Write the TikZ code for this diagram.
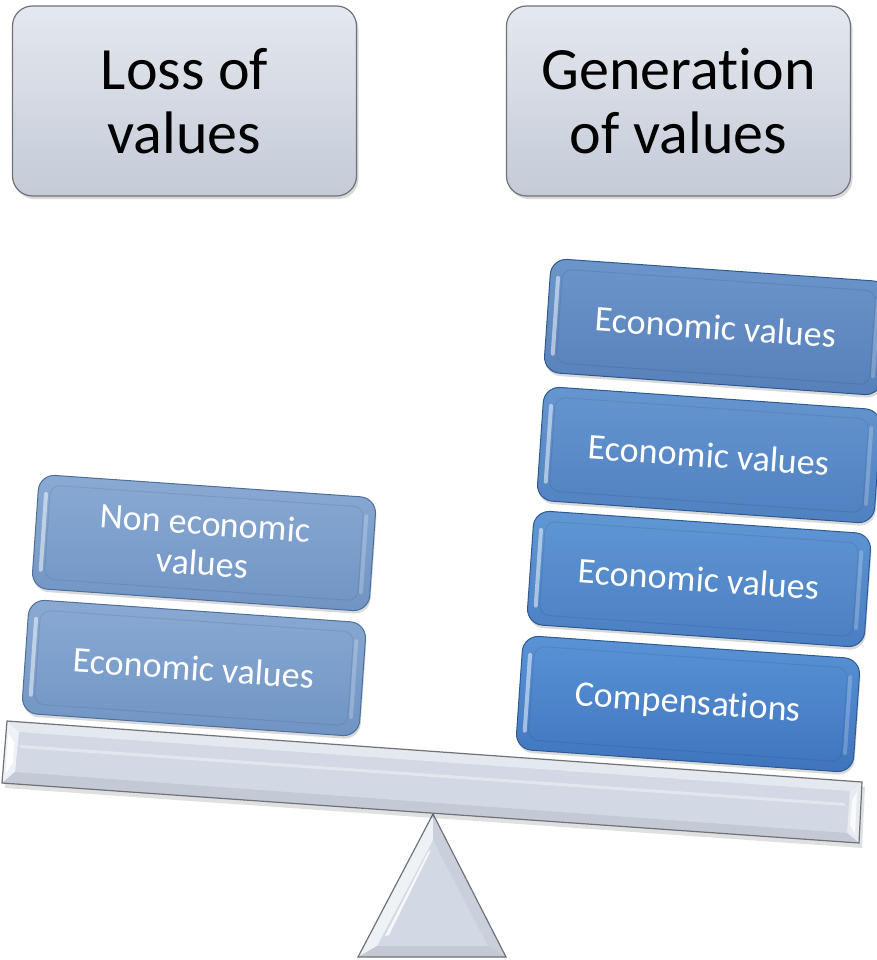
\documentclass[tikz,border=0pt]{standalone}
\usepackage{fontspec}
\setmainfont{Carlito}[Ligatures={NoCommon,NoContextual}]
\usetikzlibrary{shadows,calc}
\definecolor{grayT}{HTML}{E4E8EF}
\definecolor{grayB}{HTML}{C4CBD7}
\definecolor{grayD}{HTML}{6E7279}
\definecolor{beamF}{HTML}{D3D9E4}
\definecolor{beamL}{HTML}{EEF1F6}
\definecolor{beamM}{HTML}{C3CAD6}
\definecolor{lbT}{HTML}{8AAAD3}
\definecolor{lbB}{HTML}{6F94C4}
\definecolor{lbD}{HTML}{4D6F99}
\definecolor{r4T}{HTML}{6C95CA}
\definecolor{r4B}{HTML}{5780BA}
\definecolor{r3T}{HTML}{6696D0}
\definecolor{r3B}{HTML}{4F80C0}
\definecolor{r2T}{HTML}{6097D4}
\definecolor{r2B}{HTML}{4A7EC2}
\definecolor{r1T}{HTML}{5A93D6}
\definecolor{r1B}{HTML}{3F74BD}
\definecolor{rbD}{HTML}{2E5A90}
\newcommand\glossit[1]{%
\begin{scope}[shift={(#1.center)},rotate=-4]
 \fill[white,opacity=0.5,rounded corners=2pt] (-163pt,-40pt) rectangle (-159pt,40pt);
 \fill[white,opacity=0.22,rounded corners=2pt] (158pt,-40pt) rectangle (162pt,40pt);
 \draw[black,opacity=0.08,line width=1pt,rounded corners=10pt] (-157pt,-47pt) rectangle (157pt,47pt);
\end{scope}}
\begin{document}
\begin{tikzpicture}[x=1pt,y=-1pt,
  greybox/.style={draw=grayD, line width=1.2pt, rounded corners=20pt,
    minimum width=344pt, minimum height=190pt, top color=grayT, bottom color=grayB,
    align=center, text=black, font=\fontsize{60}{64}\selectfont,
    drop shadow={opacity=0.3,shadow xshift=2pt,shadow yshift=-3pt}},
  bluebox/.style={draw=rbD, line width=1pt, rounded corners=16pt,
    minimum width=338pt, minimum height=114pt, rotate=-4, align=center,
    text=white, font=\fontsize{36}{40}\selectfont,
    drop shadow={opacity=0.3,shadow xshift=1pt,shadow yshift=-3pt}},
  lbox/.style={bluebox, draw=lbD, top color=lbT, bottom color=lbB},
  beamline/.style={draw=grayD, line width=1.2pt, line join=miter}
]
\clip (0,0) rectangle (877,960);

% top headings
\node[greybox] (loss) at (184.5,101) {Loss of\\values};
\node[greybox] (gen) at (678.5,101) {Generat\kern0pt ion\\of values};

% fulcrum
\coordinate (tA) at (433,814);
\coordinate (tL) at (358,957);
\coordinate (tR) at (506,957);
\coordinate (iA) at (433,840);
\coordinate (iL) at (377,946);
\coordinate (iR) at (488,946);
\fill[beamF] (tA) -- (tR) -- (tL) -- cycle;
\fill[beamL] (tA) -- (iA) -- (iL) -- (tL) -- cycle;
\fill[beamM!60!beamF] (tA) -- (tR) -- (iR) -- (iA) -- cycle;
\fill[beamM] (tL) -- (iL) -- (iR) -- (tR) -- cycle;
\fill[white,opacity=0.8] (428,852) -- (431,850) -- (389,935) -- (385,936) -- cycle;
\draw[beamline] (tA) -- (tR) -- (tL) -- cycle;

% beam
\coordinate (bTL) at (7,721);
\coordinate (bTR) at (862,782);
\coordinate (bBR) at (859,843);
\coordinate (bBL) at (2,783);
\coordinate (cTL) at (19,732);
\coordinate (cTR) at (850,791);
\coordinate (cBR) at (847,833);
\coordinate (cBL) at (15,772);
\fill[black,opacity=0.12] ($(bTL)+(3,5)$) -- ($(bTR)+(3,5)$) -- ($(bBR)+(3,5)$) -- ($(bBL)+(3,5)$) -- cycle;
\fill[beamF] (bTL) -- (bTR) -- (bBR) -- (bBL) -- cycle;
\fill[grayT] (bTL) -- (bTR) -- (cTR) -- (cTL) -- cycle;
\fill[beamL] (bTL) -- (cTL) -- (cBL) -- (bBL) -- cycle;
\fill[white] (8,733) -- (14,742) -- (13,762) -- (6,773) -- cycle;
\fill[beamL!70!beamF] (bTR) -- (bBR) -- (cBR) -- (cTR) -- cycle;
\fill[white,opacity=0.8] (857,792) -- (852,800) -- (850,825) -- (855,835) -- cycle;
\fill[beamM] (bBL) -- (cBL) -- (cBR) -- (bBR) -- cycle;
\fill[white,opacity=0.35] (20,745) -- (845,803) -- (845,806) -- (20,748) -- cycle;
\draw[beamline] (bTL) -- (bTR) -- (bBR) -- (bBL) -- cycle;

% left pan
\node[lbox] (l1) at (194,668) {Economic values};
\glossit{l1}
\node[lbox] (l2) at (204,543) {Non economic\\values};
\glossit{l2}

% right pan
\node[bluebox, top color=r1T, bottom color=r1B] (r1) at (688,704) {Compensat\kern0pt ions};
\glossit{r1}
\node[bluebox, top color=r2T, bottom color=r2B] (r2) at (699,579) {Economic values};
\glossit{r2}
\node[bluebox, top color=r3T, bottom color=r3B] (r3) at (709,455) {Economic values};
\glossit{r3}
\node[bluebox, top color=r4T, bottom color=r4B] (r4) at (716,327) {Economic values};
\glossit{r4}
\end{tikzpicture}
\end{document}
